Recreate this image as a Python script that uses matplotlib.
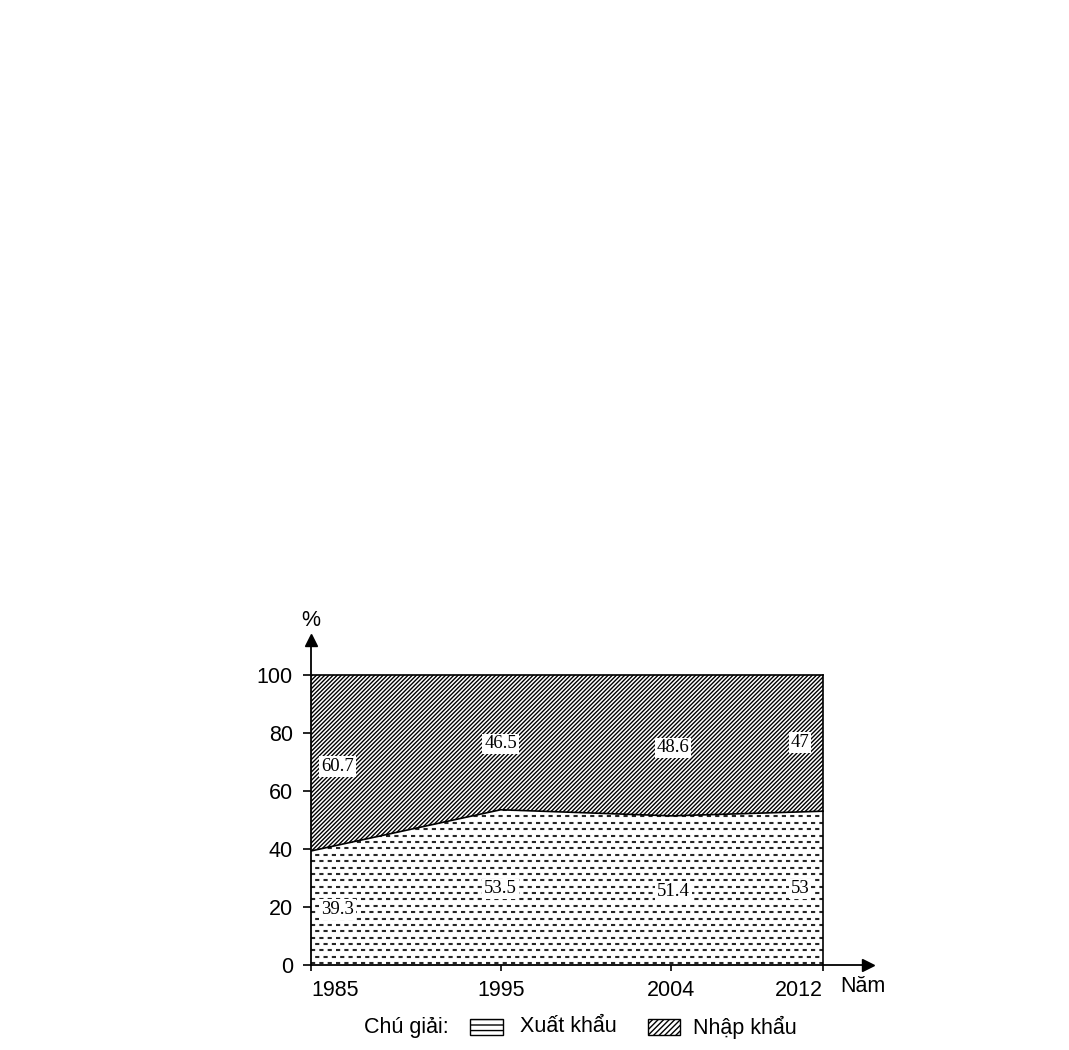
import numpy as np
import matplotlib
matplotlib.use("Agg")
import matplotlib.pyplot as plt
from matplotlib.patches import Rectangle

plt.rcParams['font.family'] = ['Liberation Sans', 'DejaVu Sans']
plt.rcParams['hatch.linewidth'] = 1.0
plt.rcParams['hatch.color'] = 'black'
plt.rcParams['lines.scale_dashes'] = False

# data (% co cau xuat nhap khau)
years = [1985, 1995, 2004, 2012]
xuat_khau = [39.3, 53.5, 51.4, 53]
nhap_khau = [60.7, 46.5, 48.6, 47]
yticks = [0, 20, 40, 60, 80, 100]

W, H = 1069, 1050
fig = plt.figure(figsize=(W/100, H/100), dpi=100)
ax = fig.add_axes([311/W, 1-965/H, (868-311)/W, (965-640)/H])
ax.set_xlim(1985, 1985 + (868-311)/512*27)
ax.set_ylim(0, 112)

total = np.array(xuat_khau) + np.array(nhap_khau)

# Nhap khau - hatched
ax.fill_between(years, xuat_khau, total, facecolor='white', edgecolor='black',
                hatch='////////', linewidth=0)
# Xuat khau - dashed rows
poly = ax.fill_between(years, 0, xuat_khau, facecolor='white', linewidth=0)
clip = poly.get_paths()[0]
for i, yy in enumerate(np.arange(0.6, 100, 2.2)):
    off = 0 if i % 2 == 0 else 3
    ln, = ax.plot([1985, 2012], [yy, yy], color='0.15', lw=1.5,
                  ls=(off, (3, 3)))
    ln.set_clip_path(clip, ax.transData)

ax.plot(years, xuat_khau, color='black', lw=1.2)
ax.plot([2012, 2012], [0, 100], color='black', lw=1.2)
ax.plot([1985, 2012], [100, 100], color='black', lw=1.2)

# value labels
lab_kw = dict(fontsize=13.5, family='Liberation Serif', ha='center', va='center',
              bbox=dict(boxstyle='square,pad=0.1', fc='white', ec='none'))
up_x = [1986.4, 1995, 2004.1, 2010.8]
up_y = [68.3, 76.2, 74.8, 76.6]
lo_y = [19, 26.2, 25.5, 26.2]
for i in range(4):
    ax.text(up_x[i], up_y[i], f"{nhap_khau[i]:g}", **lab_kw)
    ax.text(up_x[i], lo_y[i], f"{xuat_khau[i]:g}", **lab_kw)

# axes
for s in ['top', 'right']:
    ax.spines[s].set_visible(False)
for s in ['left', 'bottom']:
    ax.spines[s].set_linewidth(1.3)
ax.plot(1, 0, '>k', ms=8, transform=ax.transAxes, clip_on=False)
ax.plot(0, 1, '^k', ms=8, transform=ax.transAxes, clip_on=False)

ax.set_yticks(yticks)
ax.set_yticklabels([str(v) for v in yticks])
ax.set_xticks(years)
ax.set_xticklabels([str(v) for v in years])
ax.tick_params(axis='y', direction='out', length=6, width=1.2, labelsize=15.5, pad=7)
ax.tick_params(axis='x', direction='out', length=4, width=1.2, labelsize=15.5, pad=7)
xl = ax.get_xticklabels()
xl[0].set_ha('left')
xl[-1].set_ha('right')

fig.text(311/W, 1-621/H, '%', ha='center', va='center', fontsize=15.5)
fig.text(840/W, 1-987/H, 'Năm', ha='left', va='center', fontsize=15.5)

# legend
fig.text(364/W, 1-1027/H, 'Chú giải:', ha='left', va='center', fontsize=15.5)
fig.patches.append(Rectangle((470/W, 1-1035/H), 33/W, 16/H, transform=fig.transFigure,
                             fc='white', ec='black', lw=1.0, hatch='---', figure=fig))
fig.text(520/W, 1-1027/H, 'Xuất khẩu', ha='left', va='center', fontsize=15.5)
fig.patches.append(Rectangle((648/W, 1-1035/H), 32/W, 16/H, transform=fig.transFigure,
                             fc='white', ec='black', lw=1.0, hatch='//////', figure=fig))
fig.text(693/W, 1-1027/H, 'Nhập khẩu', ha='left', va='center', fontsize=15.5)

fig.savefig('out.png', dpi=100)
